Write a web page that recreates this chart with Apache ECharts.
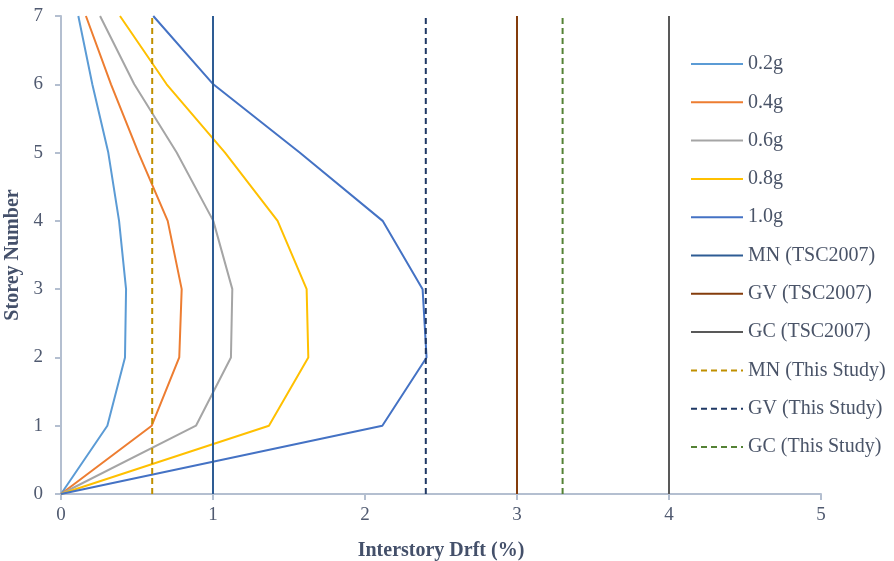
<!DOCTYPE html>
<html><head><meta charset="utf-8">
<script src="https://cdn.jsdelivr.net/npm/echarts@6/dist/echarts.min.js"></script>
<style>html,body{margin:0;padding:0;background:#fff}#c{width:894px;height:561px}</style>
</head><body><div id="c"></div>
<script>
const stories = [0, 1, 2, 3, 4, 5, 6, 7];
const drift02 = [0, 0.305, 0.421, 0.428, 0.382, 0.311, 0.206, 0.114];
const drift04 = [0, 0.597, 0.778, 0.794, 0.702, 0.509, 0.329, 0.164];
const drift06 = [0, 0.888, 1.118, 1.127, 1.002, 0.761, 0.482, 0.257];
const drift08 = [0, 1.368, 1.627, 1.616, 1.425, 1.079, 0.695, 0.388];
const drift10 = [0, 2.114, 2.405, 2.379, 2.116, 1.570, 1.002, 0.607];
const profileNames = ['0.2g', '0.4g', '0.6g', '0.8g', '1.0g'];
const profileColors = ['#5b9bd5', '#ed7d31', '#a5a5a5', '#ffc000', '#4472c4'];
const limitNames = ['MN (TSC2007)', 'GV (TSC2007)', 'GC (TSC2007)', 'MN (This Study)', 'GV (This Study)', 'GC (This Study)'];
const limitValues = [1, 3, 4, 0.6, 2.4, 3.3];
const limitColors = ['#2e5c94', '#843c0c', '#595959', '#bf8f00', '#1f3864', '#548235'];
const limitTypes = ['solid', 'solid', 'solid', 'dashed', 'dashed', 'dashed'];
const xTicks = [0, 1, 2, 3, 4, 5];
const yTicks = [0, 1, 2, 3, 4, 5, 6, 7];

const profiles = [drift02, drift04, drift06, drift08, drift10];
const series = [];
profiles.forEach((arr, i) => {
  series.push({
    name: profileNames[i], type: 'line', symbol: 'none', silent: true,
    data: arr.map((v, k) => [v, stories[k]]),
    lineStyle: { color: profileColors[i], width: 2 },
    itemStyle: { color: profileColors[i] }
  });
});
limitValues.forEach((v, i) => {
  series.push({
    name: limitNames[i], type: 'line', symbol: 'none', silent: true,
    data: [[v, yTicks[0]], [v, yTicks[yTicks.length - 1]]],
    lineStyle: { color: limitColors[i], width: 2, type: limitTypes[i] === 'dashed' ? [6, 4] : 'solid' },
    itemStyle: { color: limitColors[i] }
  });
});

const chart = echarts.init(document.getElementById('c'));
const font = '"Liberation Serif", "Times New Roman", serif';
chart.setOption({
  animation: false,
  textStyle: { fontFamily: font },
  grid: { left: 61, right: 73, top: 16, bottom: 67, outerBoundsMode: 'none', containLabel: false },
  legend: {
    orient: 'vertical', left: 685, top: 49, itemGap: 18.3,
    itemWidth: 52, itemHeight: 20,
    itemStyle: { opacity: 0 },
    textStyle: { fontFamily: font, fontSize: 20, color: '#4a5468' },
    data: profileNames.concat(limitNames)
  },
  xAxis: {
    type: 'value', min: xTicks[0], max: xTicks[xTicks.length - 1], interval: 1,
    name: 'Interstory Drft (%)', nameLocation: 'middle', nameGap: 47,
    nameTextStyle: { fontFamily: font, fontSize: 20, fontWeight: 'bold', color: '#44506a' },
    axisLine: { lineStyle: { color: '#b4bfd0', width: 2 } },
    axisTick: { show: true, length: 6, lineStyle: { color: '#b4bfd0', width: 2 } },
    axisLabel: { fontFamily: font, fontSize: 19, color: '#505a70', margin: 12 },
    splitLine: { show: false }
  },
  yAxis: {
    type: 'value', min: yTicks[0], max: yTicks[yTicks.length - 1], interval: 1,
    name: 'Storey Number', nameLocation: 'middle', nameGap: 33, nameRotate: 90,
    nameTextStyle: { fontFamily: font, fontSize: 20, fontWeight: 'bold', color: '#44506a' },
    axisLine: { show: true, lineStyle: { color: '#b4bfd0', width: 2 } },
    axisTick: { show: true, length: 6, lineStyle: { color: '#b4bfd0', width: 2 } },
    axisLabel: { fontFamily: font, fontSize: 19, color: '#505a70', margin: 18 },
    splitLine: { show: false }
  },
  series: series
});
</script></body></html>
